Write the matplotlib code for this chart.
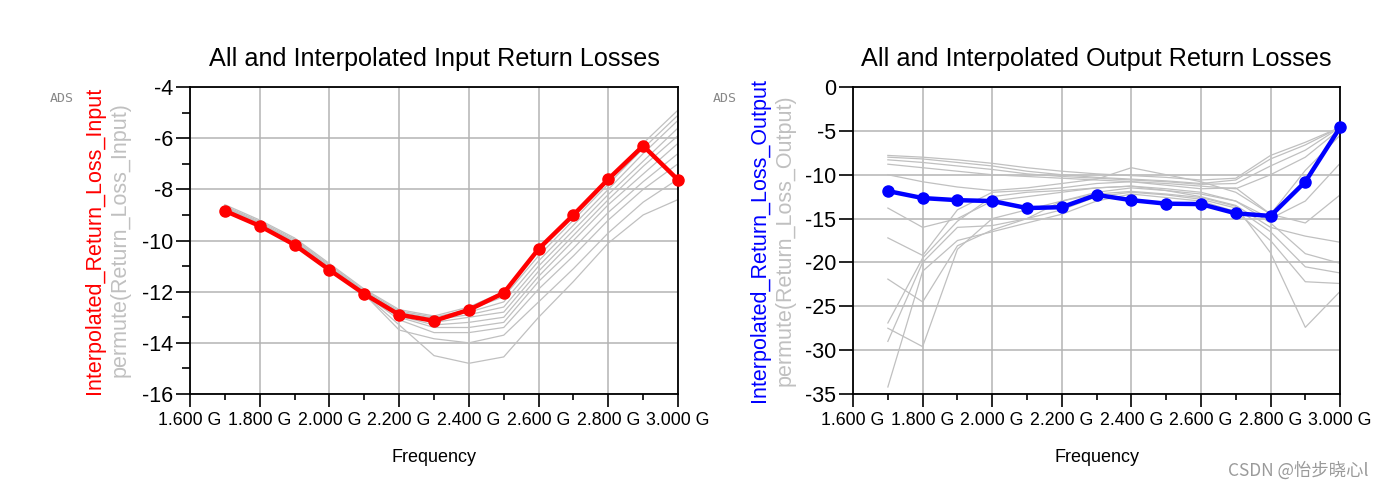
import matplotlib.pyplot as plt
from matplotlib.ticker import MultipleLocator, FuncFormatter

plt.rcParams['font.family'] = ['Liberation Sans', 'DejaVu Sans']
plt.rcParams['axes.unicode_minus'] = False

# Frequency points (GHz)
freq = [1.7, 1.8, 1.9, 2.0, 2.1, 2.2, 2.3, 2.4, 2.5, 2.6, 2.7, 2.8, 2.9, 3.0]

# Interpolated input return loss (dB)
rl_input = [-8.84, -9.43, -10.17, -11.15, -12.09, -12.9, -13.14, -12.71,
            -12.05, -10.33, -9.0, -7.6, -6.3, -7.63]

# All input return losses (permutations)
perm_input = [
    [-8.6, -9.2, -9.9, -10.9, -11.9, -12.7, -12.95, -12.6, -12.0, -10.4, -9.0, -7.6, -6.2, -4.9],
    [-8.65, -9.25, -9.95, -10.95, -11.95, -12.75, -13.0, -12.7, -12.2, -10.6, -9.2, -7.8, -6.4, -5.1],
    [-8.7, -9.3, -10.0, -11.0, -12.0, -12.8, -13.05, -12.8, -12.4, -10.8, -9.4, -8.0, -6.6, -5.3],
    [-8.7, -9.3, -10.05, -11.05, -12.0, -12.85, -13.1, -12.9, -12.6, -11.0, -9.6, -8.2, -6.9, -5.6],
    [-8.75, -9.35, -10.1, -11.1, -12.05, -12.9, -13.2, -13.0, -12.8, -11.2, -9.8, -8.4, -7.1, -5.9],
    [-8.75, -9.35, -10.1, -11.1, -12.05, -12.95, -13.3, -13.2, -13.0, -11.4, -10.0, -8.6, -7.4, -6.2],
    [-8.8, -9.4, -10.15, -11.15, -12.1, -13.0, -13.4, -13.4, -13.2, -11.6, -10.3, -8.9, -7.7, -6.6],
    [-8.8, -9.4, -10.15, -11.15, -12.1, -13.1, -13.6, -13.6, -13.4, -11.9, -10.6, -9.2, -8.0, -7.0],
    [-8.85, -9.45, -10.2, -11.2, -12.1, -13.5, -13.84, -14.0, -13.7, -12.4, -11.1, -9.7, -8.5, -7.6],
    [-8.85, -9.45, -10.2, -11.2, -12.1, -13.3, -14.5, -14.8, -14.55, -13.0, -11.6, -10.1, -9.0, -8.4],
]

# Interpolated output return loss (dB)
rl_output = [-11.86, -12.66, -12.9, -13.0, -13.8, -13.7, -12.3, -12.9,
             -13.3, -13.35, -14.4, -14.7, -10.8, -4.6]

# All output return losses (permutations)
perm_output = [
    [-7.8, -8.0, -8.3, -8.7, -9.2, -9.6, -9.9, -10.1, -10.3, -10.6, -10.4, -7.8, -6.3, -4.6],
    [-8.0, -8.2, -8.6, -9.0, -9.6, -10.0, -10.3, -10.5, -10.7, -11.0, -10.6, -8.2, -6.6, -4.6],
    [-8.3, -8.6, -9.0, -9.4, -9.9, -10.2, -10.4, -10.6, -10.8, -11.1, -11.0, -9.0, -7.2, -4.6],
    [-8.8, -9.2, -9.6, -10.0, -10.2, -10.4, -10.6, -10.8, -11.0, -11.3, -11.6, -10.0, -8.0, -4.8],
    [-10.0, -10.8, -11.4, -11.8, -11.5, -11.0, -10.5, -9.2, -10.0, -10.8, -12.0, -14.5, -9.5, -5.5],
    [-13.8, -16.0, -15.0, -13.0, -12.5, -12.0, -11.5, -11.3, -11.6, -12.0, -13.0, -15.0, -13.0, -8.7],
    [-17.2, -19.2, -14.0, -12.0, -11.8, -11.5, -11.0, -10.8, -11.2, -11.6, -11.5, -14.5, -15.5, -12.3],
    [-21.9, -24.5, -18.1, -16.3, -15.0, -13.0, -12.0, -11.5, -11.8, -12.5, -13.5, -16.0, -17.0, -17.7],
    [-26.9, -19.5, -15.3, -12.5, -12.0, -11.8, -11.5, -11.3, -11.8, -12.2, -13.0, -15.5, -19.0, -20.1],
    [-29.0, -20.0, -16.0, -15.8, -15.0, -14.0, -12.5, -12.0, -12.3, -12.8, -13.8, -16.5, -20.5, -21.2],
    [-34.2, -21.0, -17.5, -16.5, -15.5, -14.5, -13.0, -12.2, -12.6, -13.0, -14.2, -17.5, -22.2, -22.4],
    [-27.5, -29.6, -18.5, -15.0, -14.0, -13.0, -12.2, -11.9, -12.2, -12.6, -13.6, -18.9, -27.4, -23.3],
]

fig = plt.figure(figsize=(13.88, 4.93), dpi=100)
ax1 = fig.add_axes([0.1369, 0.2008, 0.3516, 0.6227])
ax2 = fig.add_axes([0.6146, 0.2008, 0.3509, 0.6227])

freq_fmt = FuncFormatter(lambda v, p: "%.3f G" % v)


def style_axes(ax, ymin, ymax, ymajor, yminor):
    ax.set_xlim(1.6, 3.0)
    ax.set_ylim(ymin, ymax)
    ax.xaxis.set_major_locator(MultipleLocator(0.2))
    ax.xaxis.set_minor_locator(MultipleLocator(0.1))
    ax.xaxis.set_major_formatter(freq_fmt)
    ax.yaxis.set_major_locator(MultipleLocator(ymajor))
    if yminor:
        ax.yaxis.set_minor_locator(MultipleLocator(yminor))
    ax.grid(True, which='major', color='#b4b4b4', linewidth=1.1)
    ax.set_axisbelow(True)
    for s in ax.spines.values():
        s.set_color('black')
        s.set_linewidth(1.3)
    ax.tick_params(axis='x', which='major', length=9, width=1.2, labelsize=12.8, pad=4)
    ax.tick_params(axis='x', which='minor', length=4, width=1.2)
    ax.tick_params(axis='y', which='major', length=10, width=1.2, labelsize=15.5, pad=2)
    ax.tick_params(axis='y', which='minor', length=6, width=1.2)
    ax.set_xlabel("Frequency", fontsize=13, labelpad=14)


# Left: input return losses
for row in perm_input:
    ax1.plot(freq, row, color='#c0c0c0', linewidth=0.9, zorder=2)
ax1.plot(freq, rl_input, color='red', linewidth=3.2, marker='o', markersize=8,
         zorder=3, clip_on=False)
style_axes(ax1, -16, -4, 2, 1)
ax1.set_title("All and Interpolated Input Return Losses", fontsize=18.2, pad=15)

# Right: output return losses
for row in perm_output:
    ax2.plot(freq, row, color='#c0c0c0', linewidth=0.9, zorder=2)
ax2.plot(freq, rl_output, color='blue', linewidth=3.2, marker='o', markersize=8,
         zorder=3, clip_on=False)
style_axes(ax2, -35, 0, 5, None)
ax2.set_title("All and Interpolated Output Return Losses", fontsize=18.2, pad=15)

# Y labels (two-line ADS style)
fig.text(95 / 1388, 1 - 240 / 493, "Interpolated_Return_Loss_Input", color='red',
         rotation=90, fontsize=15.5, ha='center', va='center')
fig.text(120 / 1388, 1 - 240 / 493, "permute(Return_Loss_Input)", color='#c0c0c0',
         rotation=90, fontsize=15.5, ha='center', va='center')
fig.text(760 / 1388, 1 - 240 / 493, "Interpolated_Return_Loss_Output", color='blue',
         rotation=90, fontsize=15.5, ha='center', va='center')
fig.text(785 / 1388, 1 - 240 / 493, "permute(Return_Loss_Output)", color='#c0c0c0',
         rotation=90, fontsize=15.5, ha='center', va='center')

# ADS marks
fig.text(62 / 1388, 1 - 99 / 493, "ADS", color='#888888', fontsize=9.5,
         ha='center', va='center', family='DejaVu Sans Mono')
fig.text(725 / 1388, 1 - 99 / 493, "ADS", color='#888888', fontsize=9.5,
         ha='center', va='center', family='DejaVu Sans Mono')

# watermark
fig.text(1298 / 1388, 1 - 471 / 493, "CSDN @怡步晓心l", color='#9a9a9a', fontsize=12.5,
         ha='center', va='center', family=['Noto Sans CJK SC', 'DejaVu Sans'])

fig.savefig("out.png", dpi=100)
